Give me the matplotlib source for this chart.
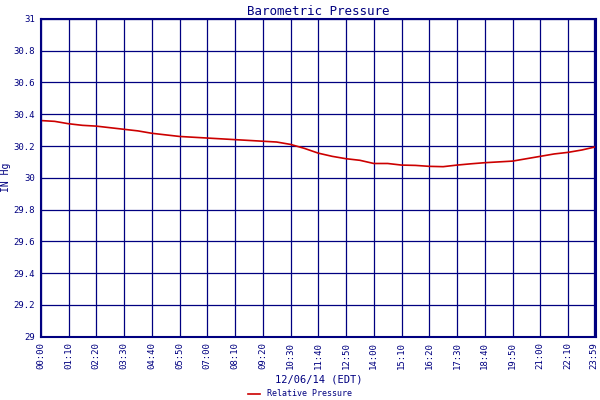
import matplotlib
matplotlib.use("Agg")
import matplotlib.pyplot as plt

NAVY = "#000080"

tick_labels = ["00:00", "01:10", "02:20", "03:30", "04:40", "05:50", "07:00",
               "08:10", "09:20", "10:30", "11:40", "12:50", "14:00", "15:10",
               "16:20", "17:30", "18:40", "19:50", "21:00", "22:10", "23:59"]
tick_pos = [0, 70, 140, 210, 280, 350, 420, 490, 560, 630, 700, 770, 840,
            910, 980, 1050, 1120, 1190, 1260, 1330, 1396]

# minutes (on the chart's own scale) and pressure readings
minutes = [0, 35, 70, 105, 140, 175, 210, 245, 280, 315, 350, 385, 420,
           455, 490, 525, 560, 595, 630, 665, 700, 735, 770, 805, 840,
           875, 910, 945, 980, 1015, 1050, 1085, 1120, 1155, 1190, 1225,
           1260, 1295, 1330, 1365, 1400]
pressure = [30.36, 30.355, 30.34, 30.33, 30.325, 30.315, 30.305, 30.295,
            30.28, 30.27, 30.26, 30.255, 30.25, 30.245, 30.24, 30.235,
            30.23, 30.225, 30.21, 30.185, 30.155, 30.135, 30.12, 30.11,
            30.09, 30.09, 30.08, 30.078, 30.072, 30.07, 30.08, 30.088,
            30.095, 30.1, 30.105, 30.12, 30.135, 30.15, 30.16, 30.175, 30.195]

fig = plt.figure(figsize=(6, 4), dpi=100)
ax = fig.add_axes([0.068, 0.158, 0.925, 0.795])
ax.plot(minutes, pressure, color="#cc0000", linewidth=1.2)

ax.set_xlim(0, 1400)
ax.set_ylim(29, 31)
ax.set_yticks([29 + 0.2 * i for i in range(11)])
ax.set_yticklabels(["29", "29.2", "29.4", "29.6", "29.8", "30",
                    "30.2", "30.4", "30.6", "30.8", "31"])
ax.set_xticks(tick_pos)
ax.set_xticklabels(tick_labels, rotation=90)
ax.tick_params(length=0, labelsize=6.5, colors=NAVY, pad=4)
for lab in ax.get_xticklabels() + ax.get_yticklabels():
    lab.set_family("DejaVu Sans Mono")
ax.grid(True, color=NAVY, linewidth=0.9)
for s in ax.spines.values():
    s.set_color(NAVY)
    s.set_linewidth(1.5)

ax.set_title("Barometric Pressure", fontsize=9, color=NAVY,
             family="DejaVu Sans Mono", pad=3)
ax.set_ylabel("IN Hg", fontsize=7, color=NAVY, family="DejaVu Sans Mono",
              labelpad=2)
ax.set_xlabel("12/06/14 (EDT)", fontsize=7.5, color=NAVY,
              family="DejaVu Sans Mono", labelpad=4)

fig.legend(["Relative Pressure"], loc="lower center", bbox_to_anchor=(0.5, -0.015),
           frameon=False, prop={"family": "DejaVu Sans Mono", "size": 6},
           labelcolor=NAVY, handlelength=1.5)

fig.savefig("out.png", dpi=100)
